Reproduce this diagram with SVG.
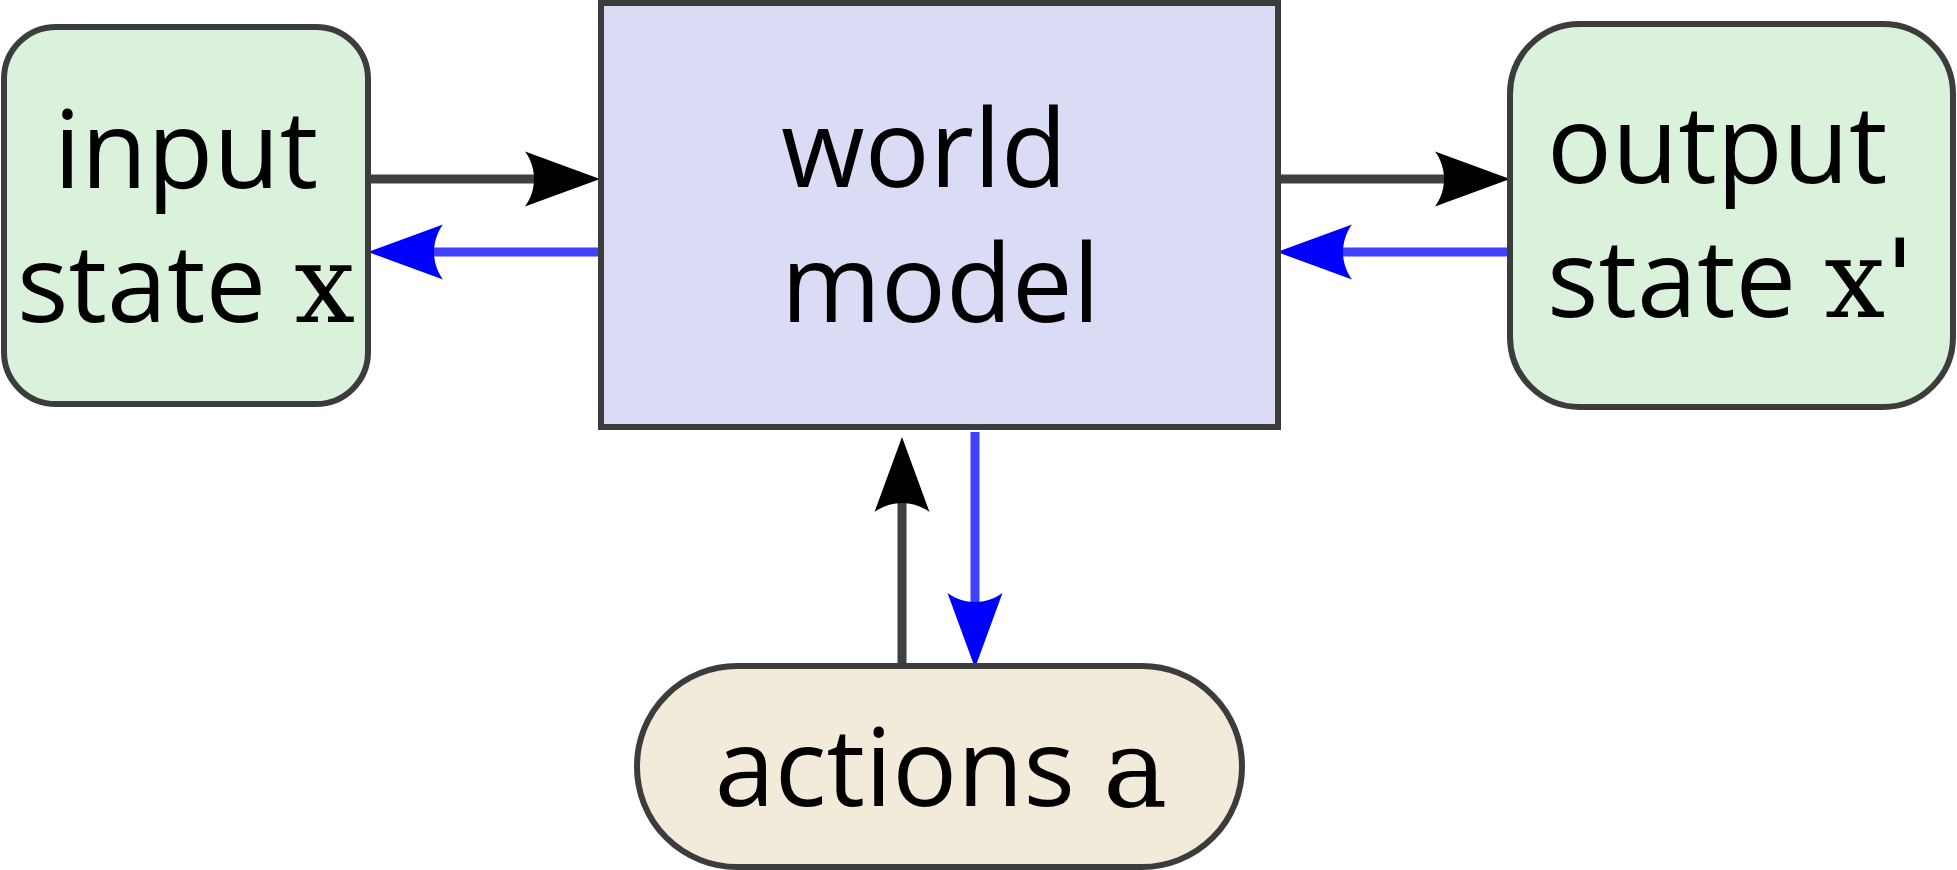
<svg xmlns="http://www.w3.org/2000/svg" width="1957" height="870" viewBox="0 0 1957 870">
  <style>
    .box { stroke: #3c3c3c; stroke-width: 6; }
    .state { fill: #daf2dc; }
    .model { fill: #dadbf4; }
    .act { fill: #f2ebda; }
    .lbl { font-family: "Open Sans", "Noto Sans", "DejaVu Sans", sans-serif; font-size: 108px; fill: #000; }
    .var { font-family: "DejaVu Serif", "Liberation Serif", serif; }
    .fwd { stroke: #000; stroke-opacity: 0.75; stroke-width: 9; fill: none; marker-end: url(#headBlack); }
    .bwd { stroke: #0000ff; stroke-opacity: 0.75; stroke-width: 9; fill: none; marker-end: url(#headBlue); }
  </style>
  <defs>
    <marker id="headBlack" markerUnits="userSpaceOnUse" orient="auto" refX="0" refY="0" markerWidth="100" markerHeight="100" style="overflow:visible">
      <path d="M 20,0 L -55,-27.5 C -43,-11.2 -43,11.2 -55,27.5 Z" fill="#000"/>
    </marker>
    <marker id="headBlue" markerUnits="userSpaceOnUse" orient="auto" refX="0" refY="0" markerWidth="100" markerHeight="100" style="overflow:visible">
      <path d="M 20,0 L -55,-27.5 C -43,-11.2 -43,11.2 -55,27.5 Z" fill="#0000ff"/>
    </marker>
  </defs>

  <g id="connectors">
    <path class="fwd" d="M 368,179 L 580,179"/>
    <path class="bwd" d="M 600,252 L 388,252"/>
    <path class="fwd" d="M 1277,179 L 1490,179"/>
    <path class="bwd" d="M 1510,252 L 1297,252"/>
    <path class="fwd" d="M 902,668 L 902,457"/>
    <path class="bwd" d="M 975,432 L 975,648"/>
  </g>

  <g id="input-state">
    <rect class="box state" x="4" y="27" width="364" height="377" rx="52" ry="52"/>
    <text class="lbl" x="186" y="188" text-anchor="middle">input</text>
    <text class="lbl" x="186" y="322" text-anchor="middle">state <tspan class="var">x</tspan></text>
  </g>

  <g id="world-model">
    <rect class="box model" x="601" y="3" width="677" height="424"/>
    <text class="lbl" x="781" y="187">world</text>
    <text class="lbl" x="781" y="322">model</text>
  </g>

  <g id="output-state">
    <rect class="box state" x="1510" y="24" width="443" height="383" rx="70" ry="70"/>
    <text class="lbl" x="1547" y="183">output</text>
    <text class="lbl" x="1547" y="317">state <tspan class="var">x'</tspan></text>
  </g>

  <g id="actions">
    <rect class="box act" x="637" y="666" width="605" height="201" rx="100" ry="100"/>
    <text class="lbl" x="941" y="806" text-anchor="middle">actions <tspan class="var">a</tspan></text>
  </g>
</svg>
